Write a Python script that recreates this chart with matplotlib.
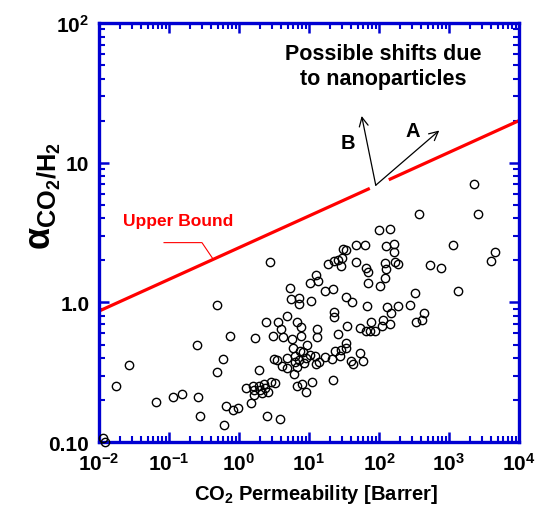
import matplotlib
matplotlib.use('Agg')
import matplotlib.pyplot as plt
from matplotlib.ticker import FixedLocator, FixedFormatter, LogLocator, NullFormatter

plt.rcParams['font.family'] = 'Liberation Sans'
plt.rcParams['font.weight'] = 'bold'
plt.rcParams['mathtext.fontset'] = 'custom'
plt.rcParams['mathtext.rm'] = 'Liberation Sans:bold'
plt.rcParams['mathtext.it'] = 'Liberation Sans:bold'
plt.rcParams['mathtext.bf'] = 'Liberation Sans:bold'
plt.rcParams['mathtext.default'] = 'rm'

## data: CO2 permeability [Barrer] and CO2/H2 selectivity
permeability = [
    0.0114, 0.0123, 0.0177, 0.0271, 0.0646, 0.115, 0.153, 0.257, 0.277, 0.251,
    0.485, 0.736, 0.597, 0.48, 0.652, 0.82, 0.968, 0.61, 1.5, 2.49,
    3.81, 1.25, 1.58, 1.64, 1.65, 1.95, 2.0, 2.3, 2.35, 2.62,
    2.13, 1.69, 2.41, 1.95, 2.77, 3.09, 4.21, 5.71, 7.69, 7.81,
    3.98, 3.64, 4.85, 6.67, 5.41, 5.48, 7.27, 7.2, 10.2, 5.85,
    7.44, 8.29, 9.06, 9.52, 4.9, 3.16, 3.46, 6.37, 7.27, 6.31,
    8.48, 4.07, 4.8, 6.67, 6.17, 2.87, 3.32, 6.74, 8.07, 9.2,
    11.0, 22.0, 2275, 2624, 369, 100, 142, 1130, 4580, 4050,
    541, 761, 1358, 47.4, 63.7, 30.3, 33.4, 164, 126, 164,
    168, 185, 120, 126, 123, 103, 65.9, 69, 69, 46.4,
    19.0, 22.8, 26.0, 29.9, 28.7, 12.7, 13.6, 16.9, 22.0, 10.8,
    33.8, 40.7, 68, 129, 149, 185, 277, 327, 440, 415,
    343, 23.0, 23.1, 13.2, 13.2, 26.1, 35.5, 54, 66.3, 74.9,
    86.5, 76.9, 109, 115, 143, 10.2, 12.3, 16.9, 23.8, 28.7,
    33.4, 34, 28.2, 21.1, 53.2, 39.8, 42.9, 59, 13.9, 12.4,
]
selectivity = [
    0.108, 0.101, 0.254, 0.359, 0.195, 0.209, 0.223, 0.212, 0.154, 0.495,
    0.957, 0.578, 0.392, 0.316, 0.183, 0.171, 0.177, 0.132, 0.191, 0.154,
    0.146, 0.243, 0.254, 0.236, 0.218, 0.254, 0.236, 0.263, 0.243, 0.23,
    0.226, 0.56, 0.728, 0.331, 1.94, 0.578, 0.565, 0.547, 0.578, 0.663,
    0.644, 0.728, 0.794, 0.728, 1.27, 1.06, 1.07, 0.98, 1.37, 0.469,
    0.449, 0.444, 0.403, 0.495, 0.403, 0.394, 0.385, 0.416, 0.387, 0.377,
    0.367, 0.353, 0.34, 0.343, 0.308, 0.271, 0.264, 0.254, 0.26, 0.23,
    0.27, 0.277, 7.05, 4.27, 4.32, 3.28, 3.36, 2.58, 2.3, 1.99,
    1.85, 1.77, 1.2, 2.58, 2.58, 2.42, 2.36, 2.62, 2.52, 2.3,
    1.94, 1.89, 1.9, 1.74, 1.49, 1.31, 1.77, 1.65, 1.37, 1.94,
    1.88, 1.99, 2.0, 2.08, 1.81, 1.57, 1.42, 1.2, 1.24, 1.03,
    1.09, 1.0, 0.936, 0.929, 0.839, 0.94, 0.96, 1.17, 0.841, 0.752,
    0.728, 0.86, 0.792, 0.644, 0.565, 0.596, 0.68, 0.661, 0.629, 0.629,
    0.629, 0.728, 0.682, 0.754, 0.697, 0.42, 0.411, 0.409, 0.448, 0.454,
    0.469, 0.509, 0.413, 0.392, 0.437, 0.383, 0.36, 0.383, 0.376, 0.36,
]

# upper bound, drawn in two pieces with a gap where the arrows start
bound_p1 = [0.01, 74]
bound_a1 = [0.867, 6.55]
bound_p2 = [138, 1e4]
bound_a2 = [7.55, 20.0]

# leader from the "Upper Bound" label to the line
leader_p = [0.085, 0.296, 0.425]
leader_a = [2.68, 2.68, 2.05]

# shift arrows
arrow_origin = (90, 6.9)
arrow_a = (727, 17.0)
arrow_b = (56.6, 21.6)

x_ticks = [1e-2, 1e-1, 1e0, 1e1, 1e2, 1e3, 1e4]
x_labels = [r'$10^{-2}$', r'$10^{-1}$', r'$10^{0}$', r'$10^{1}$',
            r'$10^{2}$', r'$10^{3}$', r'$10^{4}$']
y_ticks = [0.1, 1, 10, 100]
y_labels = ['0.10', '1.0', '10', r'$10^{2}$']

blue = '#0000d2'

fig = plt.figure(figsize=(5.35, 5.1), dpi=100)
ax = fig.add_axes([0.185, 0.131, 0.785, 0.822])

ax.plot(permeability, selectivity, 'o', mfc='none', mec='black',
        ms=6, mew=1.0, clip_on=False, zorder=3)

ax.plot(bound_p1, bound_a1, color='red', lw=2.3, solid_capstyle='butt')
ax.plot(bound_p2, bound_a2, color='red', lw=2.3, solid_capstyle='butt')
ax.plot(leader_p, leader_a, color='red', lw=0.8)
ax.text(0.022, 3.85, 'Upper Bound', color='red', fontsize=12.5,
        fontweight='bold', ha='left', va='center')

for tip in (arrow_a, arrow_b):
    ax.annotate('', xy=tip, xytext=arrow_origin,
                arrowprops=dict(arrowstyle='->', color='black', lw=0.9,
                                shrinkA=0, shrinkB=0, mutation_scale=16))
ax.text(306, 16.9, 'A', fontsize=14.5, fontweight='bold', ha='center', va='center')
ax.text(36, 13.9, 'B', fontsize=14.5, fontweight='bold', ha='center', va='center')

ax.text(0.676, 0.897, 'Possible shifts due\nto nanoparticles', transform=ax.transAxes,
        fontsize=15.5, fontweight='bold', ha='center', va='center', linespacing=1.25)

ax.set_xscale('log')
ax.set_yscale('log')
ax.set_xlim(1e-2, 1e4)
ax.set_ylim(0.1, 100)

ax.xaxis.set_major_locator(FixedLocator(x_ticks))
ax.xaxis.set_major_formatter(FixedFormatter(x_labels))
ax.yaxis.set_major_locator(FixedLocator(y_ticks))
ax.yaxis.set_major_formatter(FixedFormatter(y_labels))
ax.xaxis.set_minor_locator(LogLocator(base=10, subs=range(2, 10), numticks=20))
ax.yaxis.set_minor_locator(LogLocator(base=10, subs=range(2, 10), numticks=20))
ax.xaxis.set_minor_formatter(NullFormatter())
ax.yaxis.set_minor_formatter(NullFormatter())

for sp in ax.spines.values():
    sp.set_color(blue)
    sp.set_linewidth(2.4)
ax.tick_params(which='both', direction='in', top=True, right=True,
               color=blue, labelsize=15)
ax.tick_params(which='major', length=7, width=1.8, pad=7)
ax.tick_params(which='minor', length=4, width=1.5)

ax.set_xlabel(r'CO$_2$ Permeability [Barrer]', fontsize=14.5, fontweight='bold')
ax.xaxis.set_label_coords(0.518, -0.095)
ax.set_ylabel(r'$\alpha_{CO_2/H_2}$', fontsize=26)
ax.yaxis.set_label_coords(-0.085, 0.59)

plt.savefig('out.png', dpi=100)
